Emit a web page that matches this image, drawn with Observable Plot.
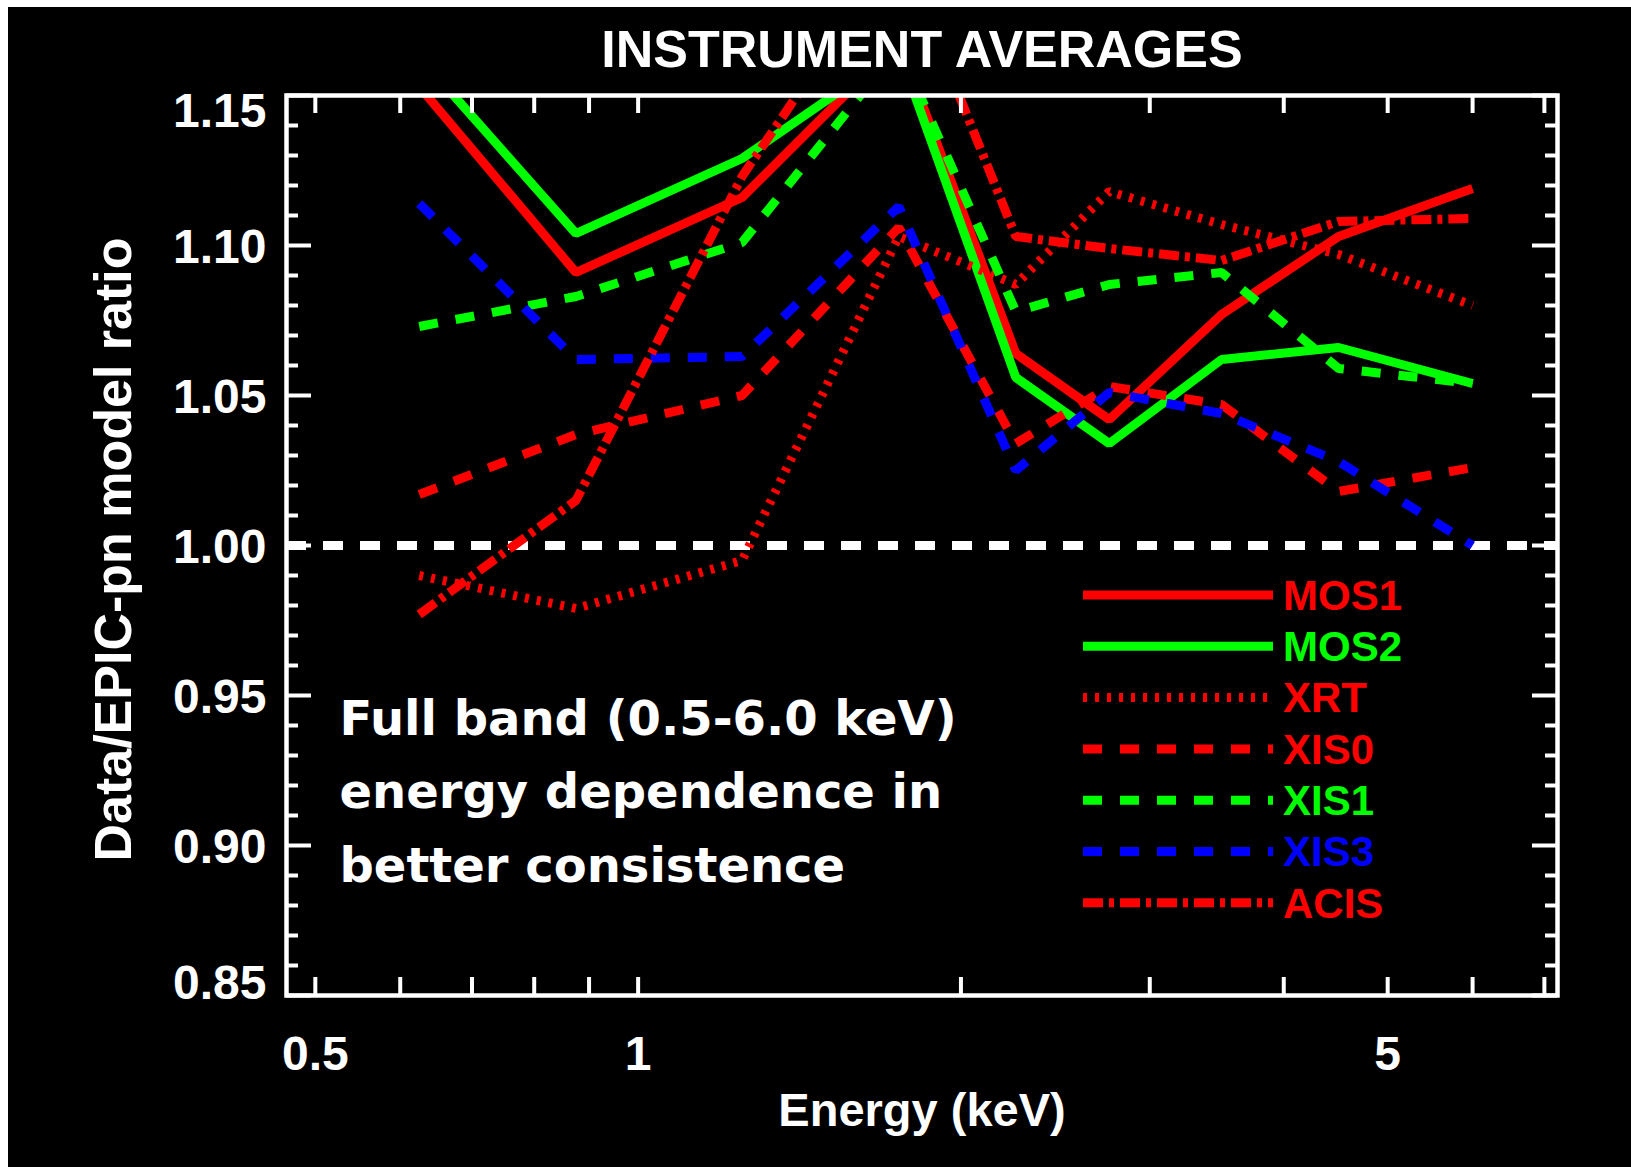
<!DOCTYPE html>
<html><head><meta charset="utf-8">
<script src="https://cdn.jsdelivr.net/npm/d3@7"></script>
<script src="https://cdn.jsdelivr.net/npm/@observablehq/plot@0.6"></script>
<style>
html,body{margin:0;padding:0;background:#fff;}
#wrap{position:absolute;left:8px;top:7px;width:1623px;height:1160px;background:#000;overflow:hidden;}
#legend{position:absolute;left:0;top:0;pointer-events:none;}
</style></head><body><div id="wrap"></div><script>
// ---- data ----
const energy = [0.625, 0.875, 1.25, 1.75, 2.25, 2.75, 3.5, 4.5, 6.0];
const mos1 = [1.153, 1.091, 1.116, 1.168, 1.064, 1.042, 1.077, 1.103, 1.119];
const mos2 = [1.163, 1.104, 1.129, 1.165, 1.056, 1.034, 1.062, 1.066, 1.054];
const xrt  = [0.990, 0.979, 0.995, 1.103, 1.087, 1.118, 1.107, 1.097, 1.080];
const xis0 = [1.017, 1.037, 1.050, 1.106, 1.034, 1.053, 1.047, 1.018, 1.026];
const xis1 = [1.073, 1.083, 1.101, 1.166, 1.078, 1.087, 1.091, 1.059, 1.054];
const xis3 = [1.114, 1.062, 1.063, 1.113, 1.025, 1.051, 1.044, 1.028, 1.000];
const acis = [0.977, 1.015, 1.123, 1.200, 1.103, 1.099, 1.095, 1.108, 1.109];
const instruments = ["MOS1", "MOS2", "XRT", "XIS0", "XIS1", "XIS3", "ACIS"];
const seriesList = [mos1, mos2, xrt, xis0, xis1, xis3, acis];
const xTickValues = [0.5, 0.6, 0.7, 0.8, 0.9, 1, 2, 3, 4, 5, 6, 7];
const xLabelValues = [0.5, 1, 5];
const yMajor = [0.85, 0.90, 0.95, 1.00, 1.05, 1.10, 1.15];
const yMinor = d3.range(85, 116).filter(v => v % 5 !== 0).map(v => v / 100);
const titleText = "INSTRUMENT AVERAGES";
const xTitle = "Energy (keV)";
const yTitle = "Data/EPIC-pn model ratio";
const annotation = ["Full band (0.5-6.0 keV)", "energy dependence in", "better consistence"];

// ---- styles ----
const colors = ["#ff0000", "#00ff00", "#ff0000", "#ff0000", "#00ff00", "#0000ff", "#ff0000"];
const dashes = [null, null, "4,8", "19,18", "19,18", "19,18", "20,6,5,6"];

const W = 1623, H = 1160, mL = 278, mR = 74, mT = 88, mB = 172;
const fw = W - mL - mR, fh = H - mT - mB;

const rows = instruments.flatMap((name, k) => energy.map((e, i) => ({energy: e, ratio: seriesList[k][i], name})));

const tickStyle = {stroke: "white", strokeWidth: 4};
const yAxisOpts = {tickSize: 0, tickPadding: 20, tickFormat: d => d.toFixed(2), label: null};
const yEnds = [yMajor[0], yMajor[yMajor.length - 1]];
const yInner = yMajor.filter(v => !yEnds.includes(v));

const plot = Plot.plot({
  width: W, height: H,
  marginLeft: mL, marginRight: mR, marginTop: mT, marginBottom: mB,
  style: {background: "black", color: "white", fontFamily: "'Liberation Sans', Arial, sans-serif", fontSize: "48px", fontWeight: "bold"},
  x: {type: "log", domain: [0.47, 7.2], axis: null},
  y: {domain: [0.85, 1.15], axis: null},
  marks: [
    Plot.ruleY([1], {stroke: "white", strokeWidth: 9, strokeDasharray: "20,17"}),
    ...instruments.map((name, k) => Plot.line(rows.filter(r => r.name === name), {
      x: "energy", y: "ratio", stroke: colors[k], strokeWidth: 9,
      strokeDasharray: dashes[k] || undefined, strokeLinecap: "butt", strokeLinejoin: "miter", clip: true
    })),
    Plot.ruleX(xTickValues, {x: d => d, ...tickStyle, insetTop: fh - 18}),
    Plot.ruleX(xTickValues, {x: d => d, ...tickStyle, insetBottom: fh - 18}),
    Plot.ruleY(yMajor, {y: d => d, ...tickStyle, insetRight: fw - 25}),
    Plot.ruleY(yMajor, {y: d => d, ...tickStyle, insetLeft: fw - 25}),
    Plot.ruleY(yMinor, {y: d => d, ...tickStyle, insetRight: fw - 12}),
    Plot.ruleY(yMinor, {y: d => d, ...tickStyle, insetLeft: fw - 12}),
    Plot.frame({stroke: "white", strokeWidth: 4.5}),
    Plot.axisX(xLabelValues, {tickSize: 0, tickPadding: 40, tickFormat: d => String(d), label: null}),
    Plot.axisY(yInner, {...yAxisOpts, dy: 2}),
    Plot.axisY([yEnds[1]], {...yAxisOpts, dy: 16}),
    Plot.axisY([yEnds[0]], {...yAxisOpts, dy: -12}),
    Plot.text([titleText], {text: d => d, frameAnchor: "top", dy: -45, lineAnchor: "middle", fontSize: 52, fill: "white"}),
    Plot.text([xTitle], {text: d => d, frameAnchor: "bottom", dy: 115, lineAnchor: "middle", fontSize: 47, fill: "white"}),
    Plot.text([yTitle], {text: d => d, frameAnchor: "left", dx: -172, dy: 4, rotate: -90, textAnchor: "middle", lineAnchor: "middle", fontSize: 52, fill: "white"}),
    ...annotation.map((line, i) => Plot.text([line], {
      text: d => d, frameAnchor: "top-left", dx: 53, dy: 624 + i * 73.5,
      lineAnchor: "middle", textAnchor: "start", fontSize: 48,
      fontFamily: "'DejaVu Sans', sans-serif", fontWeight: "bold", fill: "white"
    }))
  ]
});
document.getElementById("wrap").appendChild(plot);

// ---- legend overlay ----
const leg = d3.select("#wrap").append("svg").attr("id", "legend").attr("width", W).attr("height", H);
instruments.forEach((name, k) => {
  const y = 588 + k * 51.3;
  leg.append("line").attr("x1", 1075).attr("x2", 1265).attr("y1", y).attr("y2", y)
    .attr("stroke", colors[k]).attr("stroke-width", 9)
    .attr("stroke-dasharray", dashes[k] || null);
  leg.append("text").attr("x", 1275).attr("y", y).attr("dy", "0.35em")
    .attr("fill", colors[k]).attr("font-family", "'Liberation Sans', Arial, sans-serif")
    .attr("font-weight", "bold").attr("font-size", 42).text(name);
});
</script></body></html>
